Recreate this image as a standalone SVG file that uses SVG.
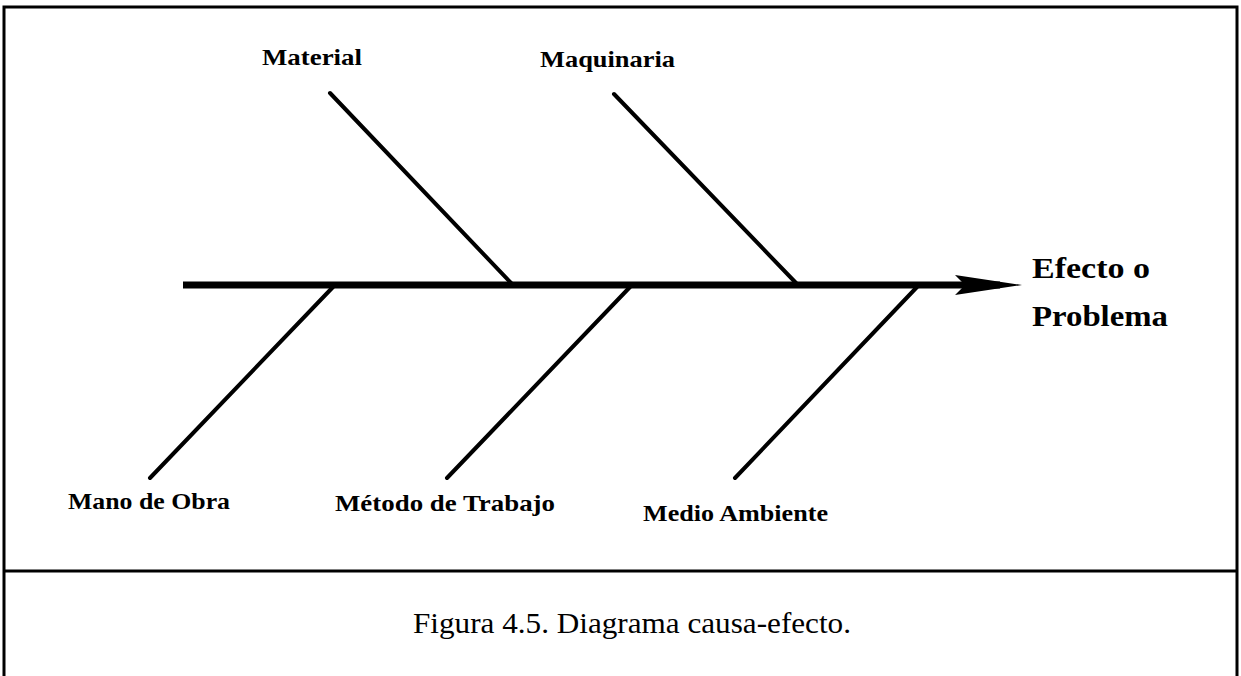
<svg xmlns="http://www.w3.org/2000/svg" width="1241" height="676" viewBox="0 0 1241 676">
<style>
.frame{fill:none;stroke:#000;stroke-width:3}
.bone{stroke:#000;stroke-width:4;stroke-linecap:round;fill:none}
.spine{stroke:#000;stroke-width:7;fill:none}
.lbl{font-family:"Liberation Serif",serif;font-weight:bold;font-size:23px;fill:#000}
.eff{font-family:"Liberation Serif",serif;font-weight:bold;font-size:30px;fill:#000}
.cap{font-family:"Liberation Serif",serif;font-size:30px;fill:#000}
</style>
<rect width="1241" height="676" fill="#fff"/>
<g id="frame">
<path class="frame" d="M4,676 V7 H1237 V676"/>
<line class="frame" x1="4" y1="571" x2="1237" y2="571"/>
</g>
<g id="connectors">
<line class="spine" x1="183" y1="285" x2="1000" y2="285"/>
<path d="M955,275 L1022,285 L955,295 L965,285 Z" fill="#000"/>
<line class="bone" x1="330" y1="93" x2="512" y2="284"/>
<line class="bone" x1="614" y1="94" x2="797" y2="284"/>
<line class="bone" x1="333" y1="287" x2="150" y2="478"/>
<line class="bone" x1="630" y1="287" x2="447" y2="478"/>
<line class="bone" x1="917" y1="287" x2="735" y2="478"/>
</g>
<g id="material"><text class="lbl" x="262" y="65" textLength="100" lengthAdjust="spacingAndGlyphs">Material</text></g>
<g id="maquinaria"><text class="lbl" x="540" y="67" textLength="135" lengthAdjust="spacingAndGlyphs">Maquinaria</text></g>
<g id="mano"><text class="lbl" x="68" y="509" textLength="162" lengthAdjust="spacingAndGlyphs">Mano de Obra</text></g>
<g id="metodo"><text class="lbl" x="335" y="511" textLength="220" lengthAdjust="spacingAndGlyphs">Método de Trabajo</text></g>
<g id="medio"><text class="lbl" x="643" y="521" textLength="185" lengthAdjust="spacingAndGlyphs">Medio Ambiente</text></g>
<g id="efecto">
<text class="eff" x="1032" y="278" textLength="118" lengthAdjust="spacingAndGlyphs">Efecto o</text>
<text class="eff" x="1032" y="326" textLength="136" lengthAdjust="spacingAndGlyphs">Problema</text>
</g>
<g id="caption"><text class="cap" x="413" y="633" textLength="438" lengthAdjust="spacingAndGlyphs">Figura 4.5. Diagrama causa-efecto.</text></g>
</svg>
